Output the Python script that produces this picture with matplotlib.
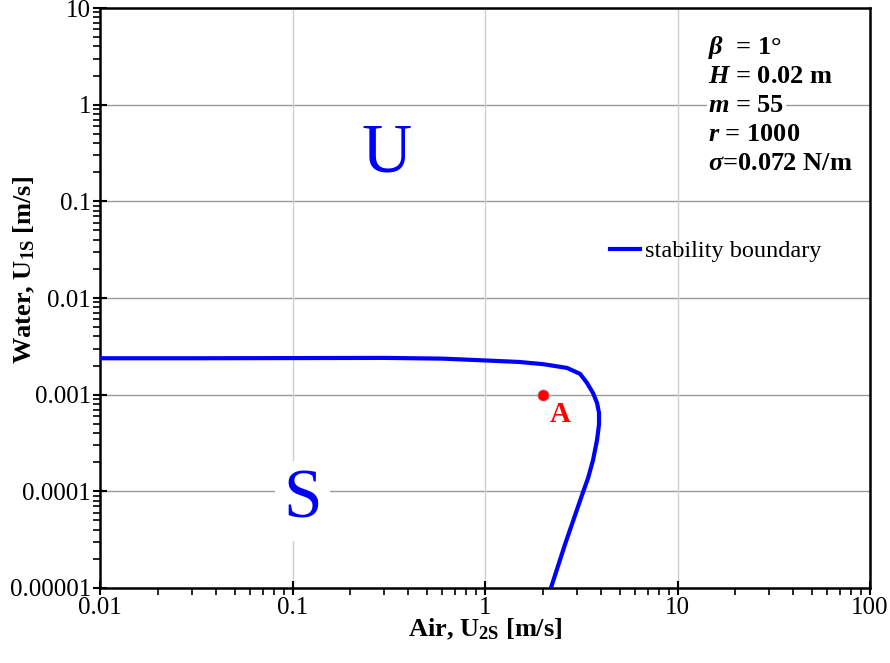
import numpy as np
import matplotlib.pyplot as plt
from matplotlib.ticker import LogLocator, FixedLocator, NullFormatter

plt.rcParams['font.family'] = ['Liberation Serif', 'DejaVu Serif']
plt.rcParams['mathtext.fontset'] = 'custom'
plt.rcParams['mathtext.it'] = 'Liberation Serif:italic:bold'
plt.rcParams['mathtext.rm'] = 'Liberation Serif:bold'
plt.rcParams['mathtext.bf'] = 'Liberation Serif:bold'

# Curva de estabilidad
air_u2s = [0.01, 0.03, 0.1, 0.3, 0.6, 1.0, 1.5, 2.0, 2.67, 3.12, 3.39, 3.64,
           3.82, 3.91, 3.91, 3.82, 3.64, 3.43, 3.23, 2.94, 2.60, 2.20]
water_u1s = [0.00238, 0.00238, 0.00239, 0.00240, 0.00236, 0.00226, 0.00218,
             0.00207, 0.00189, 0.00164, 0.00132, 0.00104, 0.00082, 0.00065,
             0.00049, 0.00034, 0.00021, 0.000137, 9.8e-5, 5.7e-5, 2.8e-5, 1.0e-5]

# Punto A
point_a = (2.0, 0.001)

params = [r'$\beta$  = 1°', r'$H$ = 0.02 m', r'$m$ = 55', r'$r$ = 1000',
          r'$\sigma$=0.072 N/m']

xticks = [0.01, 0.1, 1, 10, 100]
xlabels = ['0.01', '0.1', '1', '10', '100']
yticks = [1e-5, 1e-4, 1e-3, 1e-2, 1e-1, 1, 10]
ylabels = ['0.00001', '0.0001', '0.001', '0.01', '0.1', '1', '10']

fig = plt.figure(figsize=(8.9, 6.63), dpi=100)
ax = fig.add_axes([100 / 890, 75 / 663, 770 / 890, 580 / 663])

ax.set_xscale('log')
ax.set_yscale('log')
ax.set_xlim(0.01, 100)
ax.set_ylim(1e-5, 10)

# Rejilla
for yv in yticks[1:-1]:
    ax.axhline(yv, color='#9a9a9a', lw=1.0, zorder=0)
for xv in xticks[1:-1]:
    ax.axvline(xv, color='#cfcfcf', lw=1.0, zorder=0)

ax.plot(air_u2s, water_u1s, color='#0000ff', lw=3.0, label='stability boundary',
        zorder=3, solid_joinstyle='round')
ax.plot(*point_a, 'o', color='#ff0000', markersize=8, markeredgecolor='#c08080',
        markeredgewidth=0.6, zorder=4)
ax.text(2.45, 6.2e-4, 'A', color='#ff0000', fontsize=21, fontweight='bold',
        ha='center', va='center', zorder=4)

# Regiones
ax.text(0.31, 0.30, 'U', color='#0000ff', fontsize=50, ha='center', va='center',
        bbox=dict(facecolor='white', edgecolor='none', pad=6), zorder=2)
ax.text(0.113, 8.0e-5, 'S', color='#0000ff', fontsize=50, ha='center', va='center',
        bbox=dict(facecolor='white', edgecolor='none', pad=6), zorder=2)

# Parametros
y0 = 54
for i, line in enumerate(params):
    ypix = y0 + 29 * i
    ax.text(708 / 890, 1 - ypix / 663, line, transform=fig.transFigure,
            fontsize=19, fontweight='bold', ha='left', va='baseline',
            bbox=dict(facecolor='white', edgecolor='none', pad=1), zorder=2)

ax.legend(loc='center left', bbox_to_anchor=(0.662, 0.581), frameon=False,
          fontsize=17.5, handlelength=1.25, handletextpad=0.2, borderpad=0,
          borderaxespad=0)

ax.xaxis.set_major_locator(FixedLocator(xticks))
ax.set_xticklabels(xlabels)
ax.yaxis.set_major_locator(FixedLocator(yticks))
ax.set_yticklabels(ylabels)
ax.xaxis.set_minor_locator(LogLocator(base=10, subs=np.arange(2, 10), numticks=20))
ax.yaxis.set_minor_locator(LogLocator(base=10, subs=np.arange(2, 10), numticks=20))
ax.xaxis.set_minor_formatter(NullFormatter())
ax.yaxis.set_minor_formatter(NullFormatter())

ax.tick_params(which='major', direction='inout', length=10, width=1.5,
               labelsize=18, color='black', pad=1.5)
ax.tick_params(which='minor', direction='out', length=5, width=1.2)

for s in ax.spines.values():
    s.set_linewidth(1.8)

ax.set_xlabel(r'Air, U$_{\mathbf{2S}}$ [m/s]', fontsize=19, fontweight='bold')
ax.set_ylabel(r'Water, U$_{\mathbf{1S}}$ [m/s]', fontsize=19, fontweight='bold')
ax.xaxis.set_label_coords(0.5, -0.05)
ax.yaxis.set_label_coords(-0.082, 0.548)

fig.savefig('out.png', dpi=100)
